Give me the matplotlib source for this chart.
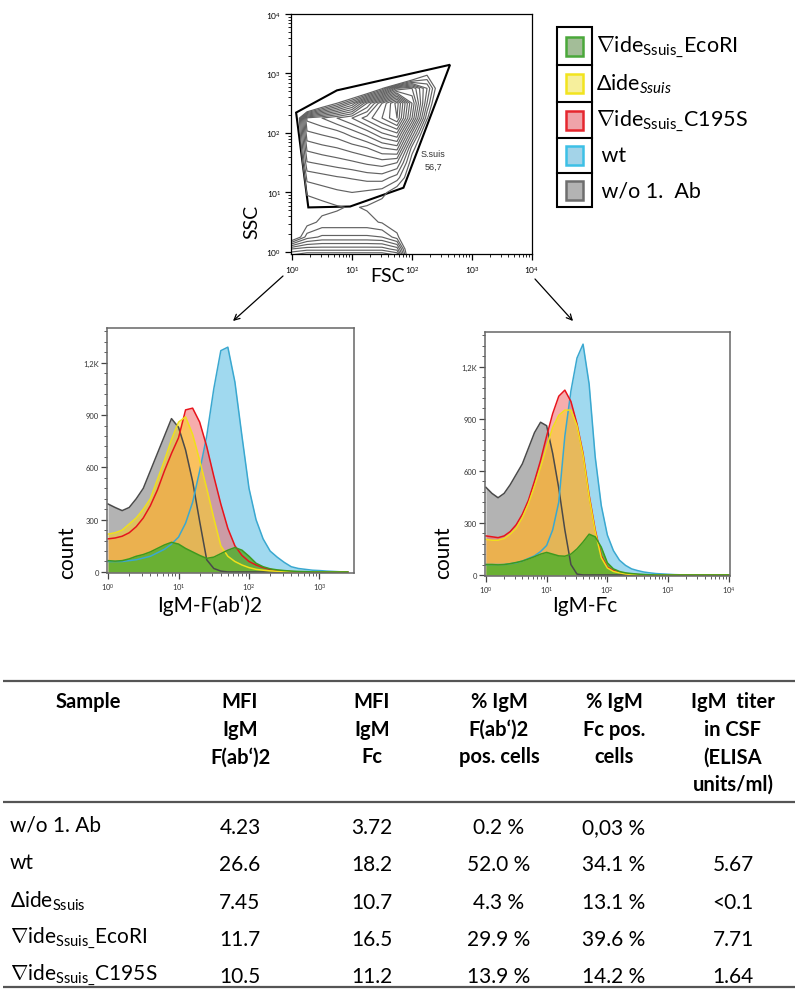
import numpy as np
import matplotlib
matplotlib.use("Agg")
import matplotlib.pyplot as plt
from matplotlib.patches import Rectangle, Polygon
from matplotlib.ticker import FixedLocator, FixedFormatter

plt.rcParams['font.family'] = ['Lato', 'DejaVu Sans']
plt.rcParams['mathtext.fontset'] = 'custom'
plt.rcParams['mathtext.rm'] = 'Lato'
plt.rcParams['mathtext.it'] = 'Lato:italic'
plt.rcParams['mathtext.bf'] = 'Lato:bold'

# ---- FSC / SSC contour plot (density levels, log10 grid) ----
fsc_dec = [0.0, 0.25, 0.5, 0.75, 1.0, 1.25, 1.5, 1.75, 2.0, 2.25, 2.5, 2.75]
ssc_dec = [-0.1, 0.05, 0.25, 0.5, 0.75, 1.0, 1.25, 1.5, 1.75, 2.0, 2.25, 2.5, 2.75, 3.0]
density = [
    [9, 10, 10, 10, 10, 10, 10, 9, -3, -3, -3, -3],
    [6, 6.5, 6.5, 6.5, 6.5, 6.5, 6.5, 5.5, -3, -3, -3, -3],
    [-1, 2.5, 3.2, 3.2, 3.2, 3.2, 3, 1.5, -3, -3, -3, -3],
    [-2, 0.5, 1.3, 1.3, 1.3, 1.3, 0.9, -0.3, -3, -3, -3, -3],
    [-3, 0.2, 0.6, 0.9, 1.1, 0.9, 0.3, -0.5, -3, -3, -4, -5],
    [-6, 1.2, 1.5, 1.8, 2.0, 1.8, 1.5, 0, -2, -3, -4, -5],
    [-6, 2.3, 2.6, 2.9, 3.1, 3.4, 3.5, 2.5, -0.5, -3, -4, -5],
    [-6, 3.9, 4.2, 4.5, 4.8, 5.2, 5.5, 5.0, 0.2, -3, -4, -5],
    [-6, 5.3, 5.7, 6, 6.5, 7, 8, 8.5, 1.6, -1.4, -4, -5],
    [-6, 6.8, 7.2, 7.6, 8.5, 9.5, 11, 12, 5, -1.5, -4, -5],
    [-6, 8.3, 9, 10, 11, 12.5, 14, 16, 9, 1.2, -3, -5],
    [-8, -9, -2.1, 1, 4, 9, 13, 16.5, 10, 3, -3, -5],
    [-10, -10, -10, -12, -5.4, -3.5, 0.7, 7, 8, 4, -1.4, -5],
    [-10, -10, -10, -12, -12, -12, -12, -15, -4.5, 0.6, -3, -5],
]
gate_fsc = [1.17, 5.6, 430, 72, 9.3, 1.87]
gate_ssc = [220, 520, 1400, 12, 5.8, 5.6]

# ---- histograms (counts every 0.1 decade) ----
fab_dec = np.round(np.arange(35) * 0.1, 1)
fab = {
    'gray': [390, 370, 352, 370, 420, 480, 580, 680, 780, 880, 830, 700, 520, 290, 70, 20, 5]
            + [0] * 18,
    'blue': [60, 60, 60, 65, 70, 80, 90, 110, 130, 160, 200, 280, 400, 580, 780, 1050, 1270,
             1290, 1090, 780, 480, 300, 190, 120, 85, 55, 30, 20, 15, 10, 8, 5, 3, 1, 0],
    'red': [190, 195, 205, 225, 260, 310, 380, 470, 580, 680, 770, 930, 940, 860, 720, 550, 390,
            250, 150, 95, 60, 40, 25, 15, 8, 5, 2] + [0] * 8,
    'yellow': [217, 225, 240, 275, 310, 360, 420, 530, 640, 760, 860, 890, 790, 640, 480, 310,
               150, 90, 60, 40, 25, 15, 10, 6, 4, 2] + [0] * 9,
    'green': [65, 62, 65, 75, 90, 100, 115, 135, 155, 170, 160, 135, 115, 95, 78, 85, 105, 125,
              140, 125, 90, 50, 30, 18, 12, 8, 5, 3, 2] + [0] * 6,
}
fc_dec = np.round(np.arange(41) * 0.1, 1)
fc = {
    'gray': [505, 470, 445, 470, 520, 580, 640, 730, 820, 880, 860, 700, 500, 260, 60, 5]
            + [0] * 25,
    'blue': [60, 60, 60, 60, 65, 70, 80, 95, 110, 135, 170, 260, 420, 800, 1060, 1250, 1330,
             1100, 680, 400, 230, 140, 85, 55, 35, 25, 17, 12, 8, 6, 4, 2, 1] + [0] * 8,
    'red': [225, 220, 215, 225, 250, 290, 350, 430, 540, 660, 800, 930, 1030, 1065, 1000, 870,
            700, 460, 260, 110, 45, 25, 15, 8, 5, 2] + [0] * 15,
    'yellow': [205, 200, 200, 210, 235, 270, 330, 410, 510, 620, 740, 850, 920, 950, 950, 860,
               690, 450, 250, 100, 40, 20, 12, 6, 3, 1] + [0] * 15,
    'green': [60, 60, 58, 60, 65, 72, 80, 92, 105, 120, 130, 120, 110, 108, 120, 150, 190, 235,
              220, 160, 70, 35, 20, 12, 8, 5, 3, 1] + [0] * 13,
}
fills = {'gray': ('#a0a0a0', '#4a4a4a', 0.8), 'blue': ('#80cdea', '#3aa8d0', 0.75),
         'red': ('#f06a6a', '#e8141c', 0.55), 'yellow': ('#ffd21f', '#f0e01a', 0.55),
         'green': ('#4caf2a', '#3d9a1e', 0.8)}
draw_order = ['gray', 'blue', 'red', 'yellow', 'green']

# ---- legend ----
legend_labels = [r'$\nabla$ide$_{\mathrm{Ssuis}\_}$EcoRI', r'$\Delta$ide$_{Ssuis}$',
                 r'$\nabla$ide$_{\mathrm{Ssuis}\_}$C195S', ' wt', ' w/o 1.  Ab']
legend_edge = ['#4aa83a', '#f2e41e', '#e5262e', '#3cc0e6', '#6e6e6e']
legend_face = ['#a3bd98', '#f6ef9c', '#efa3a9', '#a3d3e8', '#b3b3b3']

# ---- table ----
headers = [['MFI', 'IgM', 'F(ab‘)2'], ['MFI', 'IgM', 'Fc'],
           ['% IgM', 'F(ab‘)2', 'pos. cells'], ['% IgM', 'Fc pos.', 'cells'],
           ['IgM  titer', 'in CSF', '(ELISA', 'units/ml)']]
row_labels = ['w/o 1. Ab', 'wt', r'$\Delta$ide$_{\mathrm{Ssuis}}$',
              r'$\nabla$ide$_{\mathrm{Ssuis}\_}$EcoRI', r'$\nabla$ide$_{\mathrm{Ssuis}\_}$C195S']
mfi_fab = ['4.23', '26.6', '7.45', '11.7', '10.5']
mfi_fc = ['3.72', '18.2', '10.7', '16.5', '11.2']
pos_fab = ['0.2 %', '52.0 %', '4.3 %', '29.9 %', '13.9 %']
pos_fc = ['0,03 %', '34.1 %', '13.1 %', '39.6 %', '14.2 %']
titer = ['', '5.67', '<0.1', '7.71', '1.64']

W, H = 800, 995
fig = plt.figure(figsize=(W / 100, H / 100), dpi=100)


def box(l, t, r, b):
    return [l / W, 1 - b / H, (r - l) / W, (b - t) / H]


def log_axis(axis, lo, hi):
    axis.set_major_locator(FixedLocator(range(lo, hi + 1)))
    axis.set_major_formatter(FixedFormatter([r'$10^{%d}$' % k for k in range(lo, hi + 1)]))
    axis.set_minor_locator(FixedLocator([k + np.log10(m) for k in range(lo, hi)
                                         for m in range(2, 10)]))


ov = fig.add_axes([0, 0, 1, 1])
ov.set_xlim(0, W)
ov.set_ylim(H, 0)
ov.axis('off')

# scatter / contour
ax = fig.add_axes(box(291, 15, 532, 255))
ax.contour(fsc_dec, ssc_dec, density, levels=np.arange(1, 17), colors='#626262',
           linewidths=0.85)
ax.add_patch(Polygon(np.column_stack([np.log10(gate_fsc), np.log10(gate_ssc)]),
                     closed=True, fill=False, ec='k', lw=1.5))
ax.text(2.35, 1.55, 'S.suis\n56,7', fontsize=6.5, ha='center', va='center',
        family='Liberation Sans', linespacing=1.5, color='#333')
ax.set_xlim(-0.017, 4.0)
ax.set_ylim(-0.035, 4.0)
log_axis(ax.xaxis, 0, 4)
log_axis(ax.yaxis, 0, 4)
ax.tick_params(which='major', length=4, width=0.9, labelsize=6, pad=3)
ax.tick_params(which='minor', length=2, width=0.6)
for s in ax.spines.values():
    s.set_linewidth(0.9)


def hist_panel(rect, dec, counts, hi):
    h = fig.add_axes(box(*rect))
    for key in draw_order:
        face, edge, a = fills[key]
        h.fill_between(dec, counts[key], color=face, alpha=a, lw=0)
        h.plot(dec, counts[key], color=edge, lw=1.1)
    h.set_xlim(-0.015, hi)
    h.set_ylim(-6, 1400)
    log_axis(h.xaxis, 0, int(np.floor(hi)))
    h.yaxis.set_major_locator(FixedLocator([0, 300, 600, 900, 1200]))
    h.yaxis.set_major_formatter(FixedFormatter(['0', '300', '600', '900', '1,2K']))
    h.yaxis.set_minor_locator(FixedLocator(np.arange(0, 1400, 60)))
    h.tick_params(which='major', length=4, width=0.9, labelsize=5.5, pad=2,
                  color='#444', labelcolor='#333')
    h.tick_params(which='minor', length=2.2, width=0.6, color='#444')
    for s in h.spines.values():
        s.set_linewidth(1.1)
        s.set_color('#666')
    return h


hist_panel((107, 329, 354, 574), fab_dec, fab, 3.49)
hist_panel((485, 333, 730, 577), fc_dec, fc, 4.02)

# axis labels
ov.text(252, 222, 'SSC', rotation=90, fontsize=14, ha='center', va='center')
ov.text(387, 276, 'FSC', fontsize=14, ha='center', va='center')
ov.text(67, 553, 'count', rotation=90, fontsize=15, ha='center', va='center')
ov.text(443, 553, 'count', rotation=90, fontsize=15, ha='center', va='center')
ov.text(210, 606, 'IgM-F(ab‘)2', fontsize=15, ha='center', va='center')
ov.text(585, 606, 'IgM-Fc', fontsize=15, ha='center', va='center')

# arrows from the gate to the histograms
ov.annotate('', xy=(233, 322), xytext=(283, 277),
            arrowprops=dict(arrowstyle='->', lw=0.9, color='k', shrinkA=0, shrinkB=0))
ov.annotate('', xy=(573, 322), xytext=(535, 280),
            arrowprops=dict(arrowstyle='->', lw=0.9, color='k', shrinkA=0, shrinkB=0))

# legend
row_edges = [28, 66, 103, 139, 174, 208]
ov.add_patch(Rectangle((557, 28), 35, 180, fill=False, ec='k', lw=1.5))
for i, lab in enumerate(legend_labels):
    t, b = row_edges[i], row_edges[i + 1]
    if i:
        ov.plot([557, 592], [t, t], color='k', lw=1.5)
    yc = (t + b) / 2
    ov.add_patch(Rectangle((566, yc - 9.5), 17, 19, fc=legend_face[i], ec=legend_edge[i],
                           lw=1.8))
    ov.text(596, yc, lab, fontsize=15.5, ha='left', va='center')

# table
for y in (682, 803, 988):
    ov.plot([3, 795], [y, y], color='#555', lw=1.6, solid_capstyle='butt')
col_x = [240, 372, 499, 614, 733]
ov.text(88, 702, 'Sample', fontsize=14.5, fontweight='bold', ha='center', va='center')
for x, lines in zip(col_x, headers):
    for j, line in enumerate(lines):
        ov.text(x, 702 + j * 27.7, line, fontsize=14.5, fontweight='bold',
                ha='center', va='center')
row_y = [826, 863, 901, 938, 975]
for i, y in enumerate(row_y):
    ov.text(10, y, row_labels[i], fontsize=15, ha='left', va='center')
    for x, col in zip(col_x, [mfi_fab, mfi_fc, pos_fab, pos_fc, titer]):
        ov.text(x, y + 2, col[i], fontsize=15, ha='center', va='center')

fig.savefig('out.png', dpi=100)
